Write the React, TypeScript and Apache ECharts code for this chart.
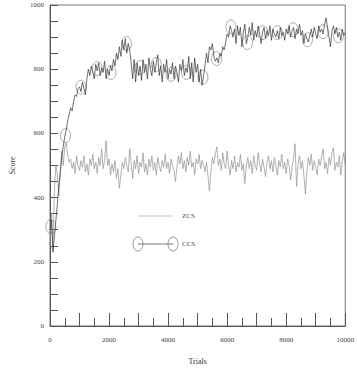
import React, { useEffect, useRef } from "react";
import * as echarts from "echarts";

const STEP = 50;
const zcs: number[] = [
  250, 350, 240, 430, 500, 470, 405, 480, 545, 500, 560, 570, 530, 510,
  520, 490, 510, 475, 530, 500, 485, 515, 495, 530, 480, 505, 470, 520, 500, 535,
  490, 510, 475, 525, 500, 552, 490, 515, 577, 500, 520, 470, 505, 480, 515, 460,
  490, 429, 470, 510, 490, 525, 500, 480, 552, 505, 460, 515, 490, 530, 475, 510,
  495, 540, 480, 505, 470, 520, 495, 530, 485, 510, 470, 525, 500, 480, 515, 495,
  535, 490, 510, 475, 520, 500, 485, 450, 495, 530, 505, 540, 490, 515, 480, 525,
  500, 545, 495, 510, 470, 520, 505, 535, 490, 515, 500, 480, 510, 470, 420, 480,
  525, 505, 535, 558, 500, 520, 485, 540, 505, 490, 545, 500, 470, 515, 490, 530,
  480, 510, 495, 535, 485, 505, 444, 500, 525, 490, 515, 475, 530, 500, 485, 540,
  505, 480, 520, 495, 465, 510, 530, 490, 515, 480, 525, 500, 470, 515, 495, 535,
  490, 510, 475, 520, 500, 455, 495, 525, 568, 435, 500, 530, 490, 515, 470, 411,
  480, 525, 500, 535, 485, 515, 495, 470, 520, 500, 530, 552, 490, 510, 475, 525,
  500, 540, 555, 485, 510, 495, 530, 470, 515, 540, 500,
];
const ccs: number[] = [
  300, 330, 230, 280, 330, 380, 440, 480, 530, 560, 590, 610, 640, 660, 680, 670,
  700, 720, 715, 740, 745, 730, 760, 740, 720, 770, 800, 780, 810, 790, 770, 815,
  795, 820, 780, 805, 790, 825, 770, 800, 780, 810, 795, 830, 810, 850, 830, 870,
  840, 890, 860, 895, 850, 880, 860, 820, 770, 830, 760, 820, 780, 810, 765, 830,
  790, 815, 770, 835, 800, 780, 825, 790, 820, 845, 780, 810, 760, 815, 790, 830,
  770, 800, 785, 820, 770, 810, 790, 760, 815, 795, 830, 780, 805, 790, 840, 770,
  820, 760, 835, 790, 815, 760, 800, 750, 780, 810, 850, 820, 870, 860, 880, 840,
  825, 835, 820, 850, 840, 870, 860, 885, 910, 900, 935, 920, 900, 925, 880, 935,
  905, 930, 870, 915, 940, 880, 900, 930, 905, 945, 890, 920, 900, 935, 910, 880,
  915, 930, 895, 920, 905, 935, 890, 925, 910, 900, 920, 895, 930, 905, 915, 890,
  925, 910, 935, 900, 920, 930, 895, 925, 910, 940, 905, 920, 880, 910, 895, 885,
  905, 925, 900, 930, 910, 895, 935, 915, 925, 910, 940, 960, 930, 900, 870, 920,
  935, 910, 930, 900, 915, 890, 925, 905, 915,
];
const markerTrials: number[] = [
  30, 525, 1050, 1600, 2065, 2590, 3050, 3600, 4100, 4620, 5180, 5640, 6130, 6690,
  7210, 7700, 8230, 8720, 9250, 9770,
];
const markerScores: number[] = [
  309, 593, 744, 802, 790, 880, 805, 815, 784, 790, 775, 833, 932, 883, 914, 914,
  923, 892, 917, 904,
];
const yLabels = [0, 200, 400, 600, 800, 1000];
const xLabels = [0, 2000, 4000, 6000, 8000, 10000];

const FONT = "Liberation Serif";

export default function App() {
  const ref = useRef<HTMLDivElement>(null);
  useEffect(() => {
    if (!ref.current) return;
    const chart = echarts.init(ref.current, undefined, { renderer: "svg" });
    const labelStyle = { fontFamily: FONT, fontSize: 7, color: "#444" };
    chart.setOption({
      animation: false,
      backgroundColor: "#fff",
      grid: {
        left: 47,
        top: 5,
        right: 5,
        bottom: 41,
        show: true,
        borderColor: "#777",
        borderWidth: 1,
      },
      xAxis: {
        type: "value",
        min: 0,
        max: 10000,
        interval: 1000,
        name: "Trials",
        nameLocation: "middle",
        nameGap: 31,
        nameTextStyle: { fontFamily: FONT, fontSize: 8, color: "#333" },
        axisLine: { show: true, lineStyle: { color: "#555", width: 1 } },
        axisTick: { show: true, inside: true, length: 13, lineStyle: { color: "#555" } },
        minorTick: { show: true, splitNumber: 2, length: 8, lineStyle: { color: "#555" } },
        splitLine: { show: false },
        axisLabel: {
          ...labelStyle,
          margin: 10,
          formatter: (v: number) => (xLabels.includes(v) ? String(v) : ""),
        },
      },
      yAxis: {
        type: "value",
        min: 0,
        max: 1000,
        interval: 200,
        name: "Score",
        nameLocation: "middle",
        nameGap: 34,
        nameTextStyle: { fontFamily: FONT, fontSize: 8, color: "#333" },
        axisLine: { show: true, lineStyle: { color: "#555", width: 1 } },
        axisTick: { show: true, inside: true, length: 8, lineStyle: { color: "#555" } },
        minorTick: { show: true, splitNumber: 4, length: 8, lineStyle: { color: "#555" } },
        splitLine: { show: false },
        axisLabel: {
          ...labelStyle,
          margin: 6,
          formatter: (v: number) => (yLabels.includes(v) ? String(v) : ""),
        },
      },
      series: [
        {
          name: "ZCS",
          type: "line",
          data: zcs.map((v, i) => [i * STEP, v]),
          showSymbol: false,
          lineStyle: { color: "#909090", width: 0.7 },
          z: 2,
        },
        {
          name: "CCS",
          type: "line",
          data: ccs.map((v, i) => [i * STEP, v]),
          showSymbol: false,
          lineStyle: { color: "#333", width: 0.7 },
          z: 3,
        },
        {
          name: "CCS markers",
          type: "scatter",
          data: markerTrials.map((t, i) => [t, markerScores[i]]),
          symbol: "circle",
          symbolSize: [10, 14],
          itemStyle: { color: "rgba(0,0,0,0)", borderColor: "#555", borderWidth: 0.6 },
          z: 4,
        },
      ],
      graphic: [
        { type: "line", shape: { x1: 138, y1: 216, x2: 173, y2: 216 }, style: { stroke: "#aaa", lineWidth: 0.7 } },
        { type: "text", x: 182, y: 216, style: { text: "ZCS", font: `7px "${FONT}"`, fill: "#444", verticalAlign: "middle" } },
        { type: "line", shape: { x1: 138, y1: 244, x2: 173, y2: 244 }, style: { stroke: "#444", lineWidth: 0.7 } },
        { type: "ellipse", shape: { cx: 138, cy: 244, rx: 5, ry: 7 }, style: { fill: "none", stroke: "#555", lineWidth: 0.6 } },
        { type: "ellipse", shape: { cx: 173, cy: 244, rx: 5, ry: 7 }, style: { fill: "none", stroke: "#555", lineWidth: 0.6 } },
        { type: "text", x: 182, y: 244, style: { text: "CCS", font: `7px "${FONT}"`, fill: "#444", verticalAlign: "middle" } },
      ],
    });
    return () => chart.dispose();
  }, []);
  return (
    <div
      ref={ref}
      style={{ position: "fixed", left: 0, top: 0, width: 357, height: 370, background: "#fff" }}
    />
  );
}
